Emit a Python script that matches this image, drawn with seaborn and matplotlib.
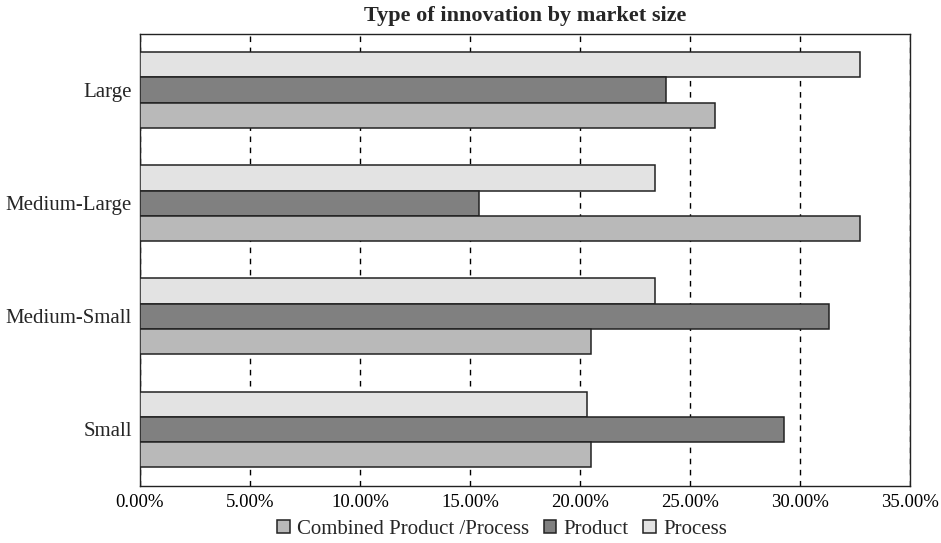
import matplotlib
matplotlib.use("Agg")
import matplotlib.pyplot as plt
import seaborn as sns
import pandas as pd
from matplotlib.ticker import PercentFormatter

categories = ["Large", "Medium-Large", "Medium-Small", "Small"]
process = [32.74, 23.39, 23.40, 20.33]
product = [23.89, 15.39, 31.32, 29.28]
combined = [26.15, 32.74, 20.49, 20.49]
series_names = ["Process", "Product", "Combined Product /Process"]
colors = {"Process": "#e3e3e3", "Product": "#808080", "Combined Product /Process": "#b9b9b9"}

rows = []
for name, vals in zip(series_names, [process, product, combined]):
    for c, v in zip(categories, vals):
        rows.append({"Market": c, "Type": name, "Value": v})
df = pd.DataFrame(rows)

sns.set_style("white")
plt.rcParams["font.family"] = ["Liberation Serif", "DejaVu Serif"]

fig = plt.figure(figsize=(9.41, 5.43), dpi=100)
ax = fig.add_axes([140/941, 1 - 486/543, (910-140)/941, (486-33.5)/543])

sns.barplot(data=df, x="Value", y="Market", hue="Type", order=categories,
            hue_order=series_names, palette=colors, orient="h", width=0.67,
            edgecolor="#222222", linewidth=1.1, ax=ax, legend=True, zorder=3)

ax.set_xlim(0, 35)
ax.set_xticks(range(0, 36, 5))
ax.xaxis.set_major_formatter(PercentFormatter(decimals=2))
ax.grid(axis="x", color="black", linestyle=(0, (4, 4)), linewidth=1.0, zorder=0)
ax.set_axisbelow(True)
ax.set_xlabel("")
ax.set_ylabel("")
for s in ax.spines.values():
    s.set_visible(True)
    s.set_color("#222222")
    s.set_linewidth(1.0)
ax.tick_params(axis="x", direction="in", length=5, width=1, colors="#222222", labelsize=13.5, labelcolor="black", pad=6)
ax.tick_params(axis="y", length=0, labelsize=15, pad=6)
ax.set_title("Type of innovation by market size", fontsize=16, fontweight="bold", pad=9)

handles, labels = ax.get_legend_handles_labels()
ax.legend_.remove()
order = [2, 1, 0]
fig.legend([handles[i] for i in order], [labels[i] for i in order], loc="center",
           bbox_to_anchor=(502/941, 1 - 529/543), ncol=3, frameon=False,
           fontsize=15, handlelength=0.6, handleheight=0.6, handletextpad=0.35,
           columnspacing=0.7)

fig.savefig("out.png", dpi=100)
